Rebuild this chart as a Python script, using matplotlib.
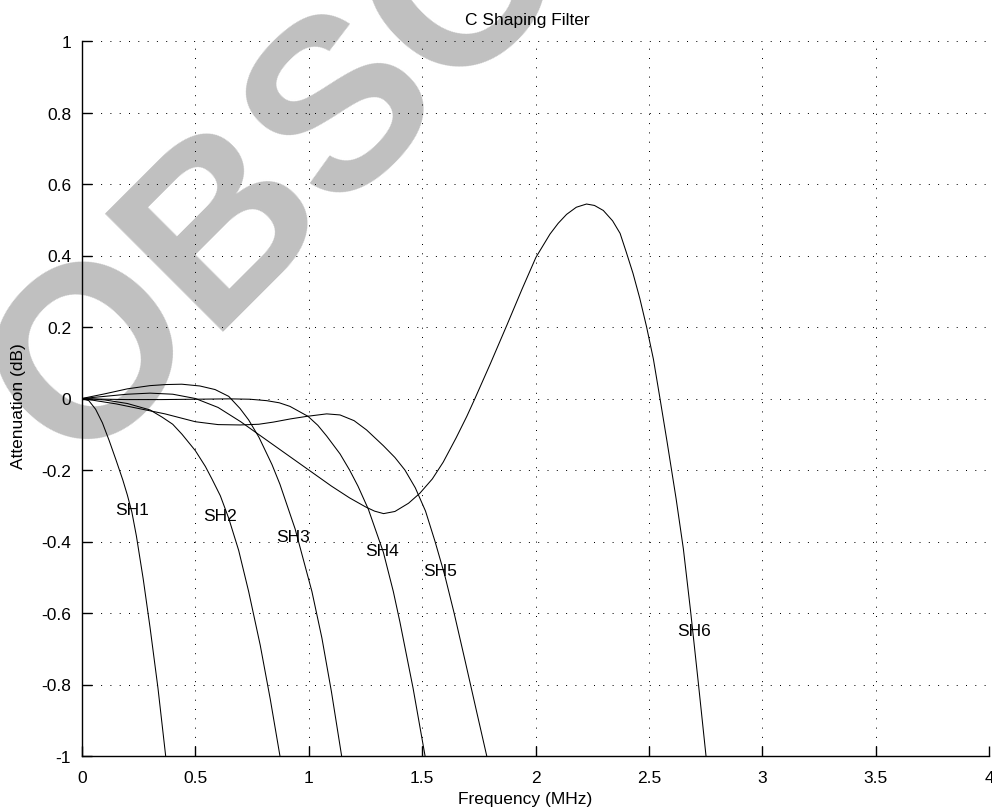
import matplotlib
matplotlib.use("Agg")
import matplotlib.pyplot as plt

plt.rcParams['font.family'] = ['Liberation Sans', 'DejaVu Sans']

# ---- data ----
sh1_x = [0, 0.03, 0.06, 0.09, 0.12, 0.15, 0.18, 0.20, 0.22, 0.24, 0.27, 0.30, 0.335, 0.369]
sh1_y = [0, -0.006, -0.03, -0.068, -0.118, -0.172, -0.228, -0.27, -0.318, -0.385, -0.505, -0.64, -0.81, -1.0]

sh2_x = [0, 0.1, 0.2, 0.3, 0.353, 0.40, 0.441, 0.50, 0.544, 0.573, 0.61, 0.647, 0.691, 0.735, 0.786, 0.83, 0.873]
sh2_y = [0, -0.004, -0.014, -0.032, -0.052, -0.072, -0.10, -0.146, -0.19, -0.225, -0.272, -0.335, -0.425, -0.54, -0.69, -0.84, -1.0]

sh3_x = [0, 0.1, 0.2, 0.3, 0.37, 0.44, 0.52, 0.587, 0.647, 0.697, 0.735, 0.78, 0.838, 0.873, 0.94, 1.014, 1.058, 1.10, 1.145]
sh3_y = [0, 0.013, 0.027, 0.036, 0.039, 0.04, 0.035, 0.025, 0.006, -0.028, -0.06, -0.108, -0.185, -0.24, -0.365, -0.54, -0.67, -0.82, -1.0]

sh4_x = [0, 0.1, 0.2, 0.35, 0.5, 0.65, 0.74, 0.814, 0.87, 0.917, 0.997, 1.04, 1.079, 1.138, 1.18, 1.217, 1.263, 1.329, 1.373, 1.402, 1.46, 1.513]
sh4_y = [0, -0.002, -0.003, -0.003, -0.002, -0.001, -0.002, -0.006, -0.012, -0.022, -0.05, -0.075, -0.105, -0.155, -0.2, -0.245, -0.31, -0.43, -0.54, -0.625, -0.81, -1.0]

sh5_x = [0, 0.15, 0.25, 0.366, 0.5, 0.6, 0.697, 0.78, 0.844, 0.92, 0.991, 1.079, 1.138, 1.20, 1.255, 1.329, 1.38, 1.424, 1.47, 1.515, 1.557, 1.60, 1.641, 1.69, 1.74, 1.785]
sh5_y = [0, -0.015, -0.028, -0.043, -0.065, -0.073, -0.074, -0.072, -0.066, -0.057, -0.05, -0.043, -0.046, -0.062, -0.088, -0.132, -0.165, -0.2, -0.25, -0.315, -0.4, -0.495, -0.6, -0.735, -0.875, -1.0]

sh6_x = [0, 0.1, 0.2, 0.3, 0.4, 0.5, 0.6, 0.7, 0.8, 0.9, 1.0, 1.1, 1.18, 1.25, 1.29, 1.33, 1.38, 1.44, 1.49,
         1.545, 1.593, 1.65, 1.697, 1.733, 1.80, 1.873, 1.94, 2.002, 2.064, 2.10, 2.137, 2.18, 2.225, 2.26, 2.299,
         2.34, 2.373, 2.40, 2.43, 2.46, 2.49, 2.52, 2.549, 2.58, 2.62, 2.652, 2.684, 2.718, 2.752]
sh6_y = [0, 0.006, 0.012, 0.015, 0.012, 0.0, -0.025, -0.065, -0.11, -0.155, -0.2, -0.245, -0.278, -0.303, -0.315, -0.322, -0.316, -0.293, -0.265,
         -0.225, -0.178, -0.11, -0.05, 0.0, 0.096, 0.204, 0.305, 0.395, 0.46, 0.49, 0.515, 0.535, 0.544, 0.54, 0.526,
         0.497, 0.462, 0.41, 0.35, 0.28, 0.2, 0.11, 0.0, -0.12, -0.28, -0.42, -0.595, -0.795, -1.0]

series_x = [sh1_x, sh2_x, sh3_x, sh4_x, sh5_x, sh6_x]
series_y = [sh1_y, sh2_y, sh3_y, sh4_y, sh5_y, sh6_y]
labels = ["SH1", "SH2", "SH3", "SH4", "SH5", "SH6"]
label_x = [0.2205, 0.6077, 0.931, 1.3216, 1.5774, 2.701]
label_y = [-0.3116, -0.3264, -0.3866, -0.426, -0.4814, -0.649]

x_ticks = [0, 0.5, 1, 1.5, 2, 2.5, 3, 3.5, 4]
x_ticklabels = ["0", "0.5", "1", "1.5", "2", "2.5", "3", "3.5", "4"]
y_ticks = [-1, -0.8, -0.6, -0.4, -0.2, 0, 0.2, 0.4, 0.6, 0.8, 1]
y_ticklabels = ["-1", "-0.8", "-0.6", "-0.4", "-0.2", "0", "0.2", "0.4", "0.6", "0.8", "1"]

W, H = 992, 812
FS = 12.5
fig = plt.figure(figsize=(W / 100, H / 100), dpi=100)
fig.patch.set_facecolor('white')

ax = fig.add_axes([82 / W, 1 - 757 / H, (989 - 82) / W, (757 - 42) / H])
ax.set_facecolor('none')

# watermark behind everything
fig.text(76 / W, 1 - 470 / H, "OBSOLETE", fontsize=175, fontweight='bold',
         color='#c0c0c0', rotation=45, rotation_mode='anchor',
         ha='left', va='baseline', zorder=-10)

for xs, ys in zip(series_x, series_y):
    ax.plot(xs, ys, color='black', lw=0.75, zorder=3)

for t, lx, ly in zip(labels, label_x, label_y):
    ax.text(lx, ly, t, ha='center', va='center', fontsize=FS, zorder=4)

ax.set_xlim(0, 4)
ax.set_ylim(-1, 1)
ax.set_xticks(x_ticks)
ax.set_xticklabels(x_ticklabels)
ax.set_yticks(y_ticks)
ax.set_yticklabels(y_ticklabels)

ax.grid(True, color='black', lw=0.72, linestyle=(0, (1, 8.3)))
ax.set_axisbelow(True)

for s in ['top', 'right']:
    ax.spines[s].set_visible(False)
for s in ['left', 'bottom']:
    ax.spines[s].set_linewidth(1.0)

ax.tick_params(axis='x', direction='in', length=7.2, width=1.0, pad=10.3, labelsize=FS, top=False)
ax.tick_params(axis='y', direction='in', length=7.2, width=1.0, pad=7.9, labelsize=FS, right=False)

fig.text(527 / W, 1 - 20.7 / H, "C Shaping Filter", ha='center', va='center', fontsize=FS)
fig.text(525 / W, 1 - 800 / H, "Frequency (MHz)", ha='center', va='center', fontsize=FS)
fig.text(19 / W, 1 - 406 / H, "Attenuation (dB)", ha='center', va='center', fontsize=FS, rotation=90)

fig.savefig("out.png", dpi=100, facecolor='white')
